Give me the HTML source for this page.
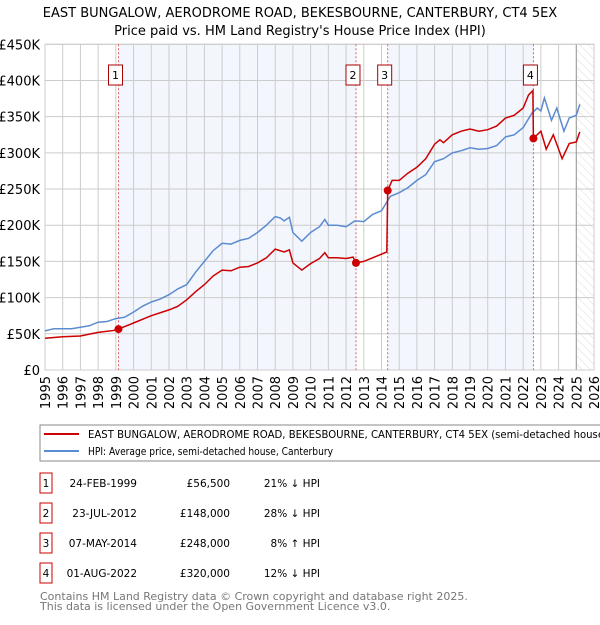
<!DOCTYPE html>
<html><head><meta charset="utf-8"><style>
body{margin:0;background:#fff;font-family:"Liberation Sans","DejaVu Sans",sans-serif;}
svg text{font-family:"DejaVu Sans","Liberation Sans",sans-serif;}
</style></head><body>
<svg id="c" width="600" height="620" viewBox="0 0 600 620" xmlns="http://www.w3.org/2000/svg">
<defs><pattern id="hatch" width="6" height="6" patternUnits="userSpaceOnUse" patternTransform="rotate(-45)"><line x1="0" y1="0" x2="0" y2="6" stroke="#d4d4d4" stroke-width="0.8"/></pattern></defs>
<text x="300" y="17" text-anchor="middle" font-size="13" fill="#000">EAST BUNGALOW, AERODROME ROAD, BEKESBOURNE, CANTERBURY, CT4 5EX</text>
<text x="300" y="35" text-anchor="middle" font-size="13" fill="#000">Price paid vs. HM Land Registry's House Price Index (HPI)</text>
<g id="plot"></g>
<rect x="40" y="425" width="570" height="36" fill="#fff" stroke="#888"/>
<line x1="44" y1="434" x2="79" y2="434" stroke="#cc0000" stroke-width="2"/>
<text x="88" y="438" font-size="11" textLength="520" lengthAdjust="spacingAndGlyphs">EAST BUNGALOW, AERODROME ROAD, BEKESBOURNE, CANTERBURY, CT4 5EX (semi-detached house)</text>
<line x1="44" y1="451" x2="79" y2="451" stroke="#5b8bd0" stroke-width="2"/>
<text x="88" y="455" font-size="11" textLength="245" lengthAdjust="spacingAndGlyphs">HPI: Average price, semi-detached house, Canterbury</text>
<g id="table" font-size="10.5"></g>
<text x="40" y="600" font-size="11" fill="#777">Contains HM Land Registry data © Crown copyright and database right 2025.</text>
<text x="40" y="610" font-size="11" fill="#777">This data is licensed under the Open Government Licence v3.0.</text>
</svg>
<script>
const hpiT=[1995,1995.5,1996,1996.5,1997,1997.5,1998,1998.5,1999,1999.5,2000,2000.5,2001,2001.5,2002,2002.5,2003,2003.5,2004,2004.5,2005,2005.5,2006,2006.5,2007,2007.5,2008,2008.3,2008.5,2008.8,2009,2009.5,2010,2010.5,2010.8,2011,2011.5,2012,2012.5,2013,2013.5,2014,2014.5,2015,2015.5,2016,2016.5,2017,2017.5,2018,2018.5,2019,2019.5,2020,2020.5,2021,2021.5,2022,2022.5,2022.8,2023,2023.2,2023.6,2023.9,2024.3,2024.6,2025,2025.2];
const hpiV=[54,57,57,57,59,61,66,67,71,73,80,88,94,98,104,112,118,135,150,165,175,174,179,182,190,200,212,210,206,211,190,178,190,198,208,200,200,198,206,205,215,220,240,245,252,262,270,288,292,300,303,307,305,306,310,322,325,335,355,362,358,376,345,362,330,348,352,367];
const redT=[1995,1996,1997,1998,1999,1999.15,2000,2001,2002,2002.5,2003,2003.5,2004,2004.5,2005,2005.5,2006,2006.5,2007,2007.5,2008,2008.5,2008.8,2009,2009.5,2010,2010.5,2010.8,2011,2011.5,2012,2012.4,2012.56,2013,2013.5,2014.3,2014.35,2014.6,2015,2015.5,2016,2016.5,2017,2017.3,2017.5,2018,2018.5,2019,2019.5,2020,2020.5,2021,2021.5,2022,2022.3,2022.55,2022.58,2023,2023.3,2023.7,2024,2024.2,2024.6,2025,2025.2];
const redV=[44,46,47,52,55,56.5,65,75,83,88,97,108,118,130,138,137,142,143,148,155,167,163,166,148,138,147,154,162,155,155,154,156,148,150,155,163,248,262,262,272,280,292,312,318,314,325,330,333,330,332,337,348,352,362,380,386,320,330,305,325,305,292,313,315,329];
const saleT=[1999.15,2012.56,2014.35,2022.58];
const saleV=[56.5,148,248,320];
const saleLabels=["1","2","3","4"];
const saleDates=["24-FEB-1999","23-JUL-2012","07-MAY-2014","01-AUG-2022"];
const salePrices=["£56,500","£148,000","£248,000","£320,000"];
const saleHpi=["21% ↓ HPI","28% ↓ HPI","8% ↑ HPI","12% ↓ HPI"];
const yTicks=[0,50,100,150,200,250,300,350,400,450];
const yTickLabels=["£0","£50K","£100K","£150K","£200K","£250K","£300K","£350K","£400K","£450K"];
const xTicks=[1995,1996,1997,1998,1999,2000,2001,2002,2003,2004,2005,2006,2007,2008,2009,2010,2011,2012,2013,2014,2015,2016,2017,2018,2019,2020,2021,2022,2023,2024,2025,2026];

const NS="http://www.w3.org/2000/svg";
const X0=45,X1=594,Y0=370,Y1=44.3;
const xs=t=>X0+(t-1995)/(2026-1995)*(X1-X0);
const ys=v=>Y0-v/450*(Y0-Y1);
const plot=document.getElementById('plot');
function mk(tag,attrs,parent){const e=document.createElementNS(NS,tag);for(const k in attrs)e.setAttribute(k,attrs[k]);(parent||plot).appendChild(e);return e;}
let e;
e=mk('rect',{x:X0,y:Y1,width:X1-X0,height:Y0-Y1,fill:'#fff'});


const shade=[[saleT[0],saleT[1]],[saleT[2],saleT[3]]];
shade.forEach((s,i)=>{e=mk('rect',{x:xs(s[0]),y:Y1,width:xs(s[1])-xs(s[0]),height:Y0-Y1,fill:'#f3f6fd'});

});
e=mk('rect',{x:xs(2025),y:Y1,width:X1-xs(2025),height:Y0-Y1,fill:'url(#hatch)'});


yTicks.forEach((v,i)=>{e=mk('line',{x1:X0,x2:X1,y1:ys(v),y2:ys(v),stroke:'#ccc'});


e=mk('text',{x:40,y:ys(v)+5,'text-anchor':'end','font-size':13});e.textContent=yTickLabels[i];

});
xTicks.forEach(t=>{e=mk('line',{x1:xs(t),x2:xs(t),y1:Y1,y2:Y0,stroke:'#ccc'});


e=mk('text',{x:0,y:0,'text-anchor':'end','font-size':13,transform:`translate(${xs(t)+5},${Y0+6}) rotate(-90)`});e.textContent=t;

});
e=mk('line',{x1:xs(2025),x2:xs(2025),y1:Y1,y2:Y0,stroke:'#999','stroke-width':1});


e=mk('rect',{x:X0,y:Y1,width:X1-X0,height:Y0-Y1,fill:'none',stroke:'#ccc'});


saleT.forEach((t,i)=>{e=mk('line',{x1:xs(t),x2:xs(t),y1:Y1,y2:Y0,stroke:'#e06060','stroke-dasharray':'2,2'});


e=mk('rect',{x:xs(t)-10,y:65,width:14,height:20,fill:'#fff',stroke:'#aa0000'});


e=mk('text',{x:xs(t)-3,y:79,'text-anchor':'middle','font-size':11});e.textContent=saleLabels[i];

});
const pts=(T,V)=>T.map((t,i)=>xs(t).toFixed(1)+','+ys(V[i]).toFixed(1)).join(' ');
e=mk('polyline',{points:pts(hpiT,hpiV),fill:'none',stroke:'#5b8bd0','stroke-width':1.5});


e=mk('polyline',{points:pts(redT,redV),fill:'none',stroke:'#cc0000','stroke-width':1.5});


saleT.forEach((t,i)=>{e=mk('circle',{cx:xs(t),cy:ys(saleV[i]),r:4,fill:'#cc0000'});

});
const tb=document.getElementById('table');
saleT.forEach((t,i)=>{const y=483+i*30;
e=mk('rect',{x:40,y:y-10,width:12,height:20,fill:'#fff',stroke:'#cc0000'},tb);


e=mk('text',{x:46,y:y+4,'text-anchor':'middle'},tb);e.textContent=saleLabels[i];


e=mk('text',{x:137,y:y+4,'text-anchor':'end'},tb);e.textContent=saleDates[i];


e=mk('text',{x:230,y:y+4,'text-anchor':'end'},tb);e.textContent=salePrices[i];


e=mk('text',{x:320,y:y+4,'text-anchor':'end'},tb);e.textContent=saleHpi[i];

});
</script>
</body></html>
